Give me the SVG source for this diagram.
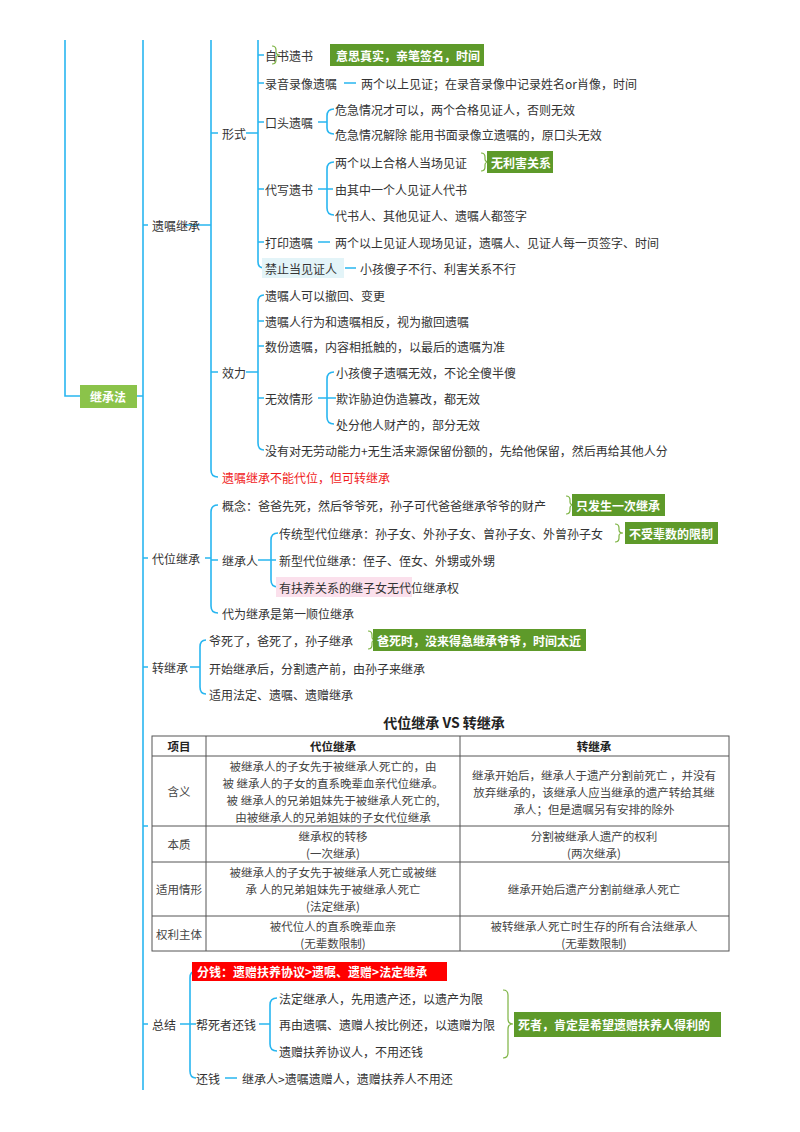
<svg xmlns="http://www.w3.org/2000/svg" width="800" height="1132" viewBox="0 0 800 1132">
<style>
text{font-family:"Noto Sans CJK SC","Liberation Sans",sans-serif;font-size:12px;fill:#333;dominant-baseline:central}
.c path,.c line{stroke:#29b6f0;stroke-width:1.6;fill:none}
.b{stroke:#7cb342;stroke-width:1.2;fill:none}
.g rect{fill:#5e9a2a}
.g text{fill:#fff;font-weight:bold}
.t line,.t rect{stroke:#555;stroke-width:1;fill:none}
.tc{text-anchor:middle;font-size:11.5px;fill:#444}
</style>
<rect width="800" height="1132" fill="#fff"/>
<g class="c">
<path d="M65 40V396H80"/>
<path d="M137 396H143M143 40V1090"/>
<path d="M143 225H148M186 225H211M211 40V470Q211 477 218 477"/>
<path d="M211 133H218M246 133H258M258 40V262Q258 268 264 268"/>
<path d="M258 55H264M258 83H264M258 122H264M258 189H264M258 242H264"/>
<path d="M344 83H356M318 122H327M327 116Q327 109 334 109M327 128Q327 134 334 134M327 116V128"/>
<path d="M318 189H333M327 169Q327 162 334 162M327 169V208Q327 215 334 215"/>
<path d="M318 242H330M345 268H356"/>
<path d="M211 372H218M246 372H258M258 302Q258 295 264 295M258 302V443Q258 450 264 450"/>
<path d="M258 321H264M258 346H264M258 398H264M318 398H336M327 379Q327 372 334 372M327 379V417Q327 424 334 424"/>
<path d="M143 558H148M205 558H211M211 512Q211 505 218 505M211 512V606Q211 613 218 613"/>
<path d="M211 560H218M258 560H276M271 540Q271 533 278 533M271 540V580Q271 587 278 587"/>
<path d="M143 667H148M190 667H200M200 647Q200 640 206 640M200 647V687Q200 694 206 694"/>
<path d="M143 1024H148M180 1024H190M190 978Q190 971 196 971M190 978V1071Q190 1078 196 1078"/>
<path d="M190 1024H196M259 1024H270M270 1005Q270 998 277 998M270 1005V1044Q270 1051 277 1051"/>
<path d="M225 1078H237M143 826H148"/>
</g>
<g id="root"><rect x="80" y="385" width="57" height="23" fill="#8bc34a"/><text x="108" y="396.5" text-anchor="middle" style="fill:#fff;font-weight:bold">继承法</text></g>
<g id="n1"><text x="152" y="225">遗嘱继承</text></g>
<g id="n2"><text x="222" y="133">形式</text>
<text x="265" y="55">自书遗书</text>
<text x="265" y="83">录音录像遗嘱</text><text x="361" y="83">两个以上见证；在录音录像中记录姓名or肖像，时间</text>
<text x="265" y="122">口头遗嘱</text><text x="335" y="109">危急情况才可以，两个合格见证人，否则无效</text><text x="335" y="134">危急情况解除 能用书面录像立遗嘱的，原口头无效</text>
<text x="265" y="189">代写遗书</text><text x="335" y="162">两个以上合格人当场见证</text><text x="335" y="189">由其中一个人见证人代书</text><text x="335" y="215">代书人、其他见证人、遗嘱人都签字</text>
<text x="265" y="242">打印遗嘱</text><text x="335" y="242">两个以上见证人现场见证，遗嘱人、见证人每一页签字、时间</text>
<rect x="262" y="258" width="82" height="20" fill="#e3f4f8"/><text x="265" y="268">禁止当见证人</text><text x="360" y="268">小孩傻子不行、利害关系不行</text></g>
<g id="n3"><text x="222" y="372">效力</text>
<text x="265" y="295">遗嘱人可以撤回、变更</text><text x="265" y="321">遗嘱人行为和遗嘱相反，视为撤回遗嘱</text><text x="265" y="346">数份遗嘱，内容相抵触的，以最后的遗嘱为准</text>
<text x="265" y="398">无效情形</text><text x="336" y="372">小孩傻子遗嘱无效，不论全傻半傻</text><text x="336" y="398">欺诈胁迫伪造篡改，都无效</text><text x="336" y="424">处分他人财产的，部分无效</text>
<text x="265" y="450">没有对无劳动能力+无生活来源保留份额的，先给他保留，然后再给其他人分</text>
<text x="222" y="477" style="fill:#f01c1c">遗嘱继承不能代位，但可转继承</text></g>
<g id="n4"><text x="152" y="558">代位继承</text>
<text x="222" y="505">概念：爸爸先死，然后爷爷死，孙子可代爸爸继承爷爷的财产</text>
<text x="222" y="560">继承人</text>
<text x="279" y="533">传统型代位继承：孙子女、外孙子女、曾孙子女、外曾孙子女</text>
<text x="279" y="560">新型代位继承：侄子、侄女、外甥或外甥</text>
<rect x="276" y="577" width="136" height="20" fill="#fbe0ec"/><text x="279" y="587">有扶养关系的继子女无代位继承权</text>
<text x="222" y="613">代为继承是第一顺位继承</text></g>
<g id="n5"><text x="152" y="667">转继承</text>
<text x="209" y="640">爷死了，爸死了，孙子继承</text><text x="209" y="668">开始继承后，分割遗产前，由孙子来继承</text><text x="209" y="694">适用法定、遗嘱、遗赠继承</text></g>
<g class="b">
<path d="M272 46Q276 46 276 50V52Q276 55 280 55Q276 55 276 58V60Q276 64 272 64"/>
<path d="M481 153Q485 153 485 157V159Q485 162 489 162Q485 162 485 165V167Q485 171 481 171"/>
<path d="M566 496Q570 496 570 500V502Q570 505 574 505Q570 505 570 508V510Q570 514 566 514"/>
<path d="M615 524Q619 524 619 528V530Q619 533 623 533Q619 533 619 536V538Q619 542 615 542"/>
<path d="M368 631Q372 631 372 635V637Q372 640 376 640Q372 640 372 643V645Q372 649 368 649"/>
<path d="M503 990Q508 990 508 995V1019Q508 1024 513 1024Q508 1024 508 1029V1053Q508 1058 503 1058"/>
</g>
<g class="g">
<rect x="330" y="44" width="154" height="22"/><text x="336" y="55">意思真实，亲笔签名，时间</text>
<rect x="487" y="151" width="66" height="22"/><text x="491" y="162">无利害关系</text>
<rect x="572" y="494" width="93" height="22"/><text x="576" y="505">只发生一次继承</text>
<rect x="625" y="522" width="93" height="22"/><text x="629" y="533">不受辈数的限制</text>
<rect x="373" y="629" width="213" height="22"/><text x="377" y="640">爸死时，没来得急继承爷爷，时间太近</text>
<rect x="514" y="1012" width="207" height="25"/><text x="518" y="1024.5">死者，肯定是希望遗赠扶养人得利的</text>
</g>
<g id="table">
<text x="444" y="722" text-anchor="middle" style="font-size:14px;font-weight:bold;fill:#222">代位继承 VS 转继承</text>
<g class="t"><rect x="152" y="736" width="577" height="215"/>
<line x1="152" y1="756" x2="729" y2="756"/><line x1="152" y1="826" x2="729" y2="826"/><line x1="152" y1="862" x2="729" y2="862"/><line x1="152" y1="916" x2="729" y2="916"/>
<line x1="206" y1="736" x2="206" y2="951"/><line x1="460" y1="736" x2="460" y2="951"/></g>
<text class="tc" x="179" y="746" style="font-weight:bold;fill:#222">项目</text><text class="tc" x="333" y="746" style="font-weight:bold;fill:#222">代位继承</text><text class="tc" x="594" y="746" style="font-weight:bold;fill:#222">转继承</text>
<text class="tc" x="179" y="791">含义</text>
<text class="tc" x="333" y="766">被继承人的子女先于被继承人死亡的，由</text><text class="tc" x="333" y="783">被 继承人的子女的直系晚辈血亲代位继承。</text><text class="tc" x="333" y="800">被 继承人的兄弟姐妹先于被继承人死亡的,</text><text class="tc" x="333" y="817">由被继承人的兄弟姐妹的子女代位继承</text>
<text class="tc" x="594" y="775">继承开始后，继承人于遗产分割前死亡 ，并没有</text><text class="tc" x="594" y="792">放弃继承的，该继承人应当继承的遗产转给其继</text><text class="tc" x="594" y="809">承人；但是遗嘱另有安排的除外</text>
<text class="tc" x="179" y="844">本质</text><text class="tc" x="333" y="836">继承权的转移</text><text class="tc" x="333" y="853">(一次继承)</text><text class="tc" x="594" y="836">分割被继承人遗产的权利</text><text class="tc" x="594" y="853">(两次继承)</text>
<text class="tc" x="179" y="889">适用情形</text><text class="tc" x="333" y="872">被继承人的子女先于被继承人死亡或被继</text><text class="tc" x="333" y="889">承 人的兄弟姐妹先于被继承人死亡</text><text class="tc" x="333" y="906">(法定继承)</text><text class="tc" x="594" y="889">继承开始后遗产分割前继承人死亡</text>
<text class="tc" x="179" y="934">权利主体</text><text class="tc" x="333" y="926">被代位人的直系晚辈血亲</text><text class="tc" x="333" y="943">(无辈数限制)</text><text class="tc" x="594" y="926">被转继承人死亡时生存的所有合法继承人</text><text class="tc" x="594" y="943">(无辈数限制)</text>
</g>
<g id="n6"><text x="152" y="1024">总结</text>
<rect x="192" y="962" width="255" height="19" fill="#f00"/><text x="197" y="971.5" style="fill:#fff;font-weight:bold">分钱：遗赠扶养协议&gt;遗嘱、遗赠&gt;法定继承</text>
<text x="196" y="1024">帮死者还钱</text>
<text x="279" y="998">法定继承人，先用遗产还，以遗产为限</text><text x="279" y="1024">再由遗嘱、遗赠人按比例还，以遗赠为限</text><text x="279" y="1051">遗赠扶养协议人，不用还钱</text>
<text x="196" y="1078">还钱</text><text x="242" y="1078">继承人&gt;遗嘱遗赠人，遗赠扶养人不用还</text></g>
</svg>
